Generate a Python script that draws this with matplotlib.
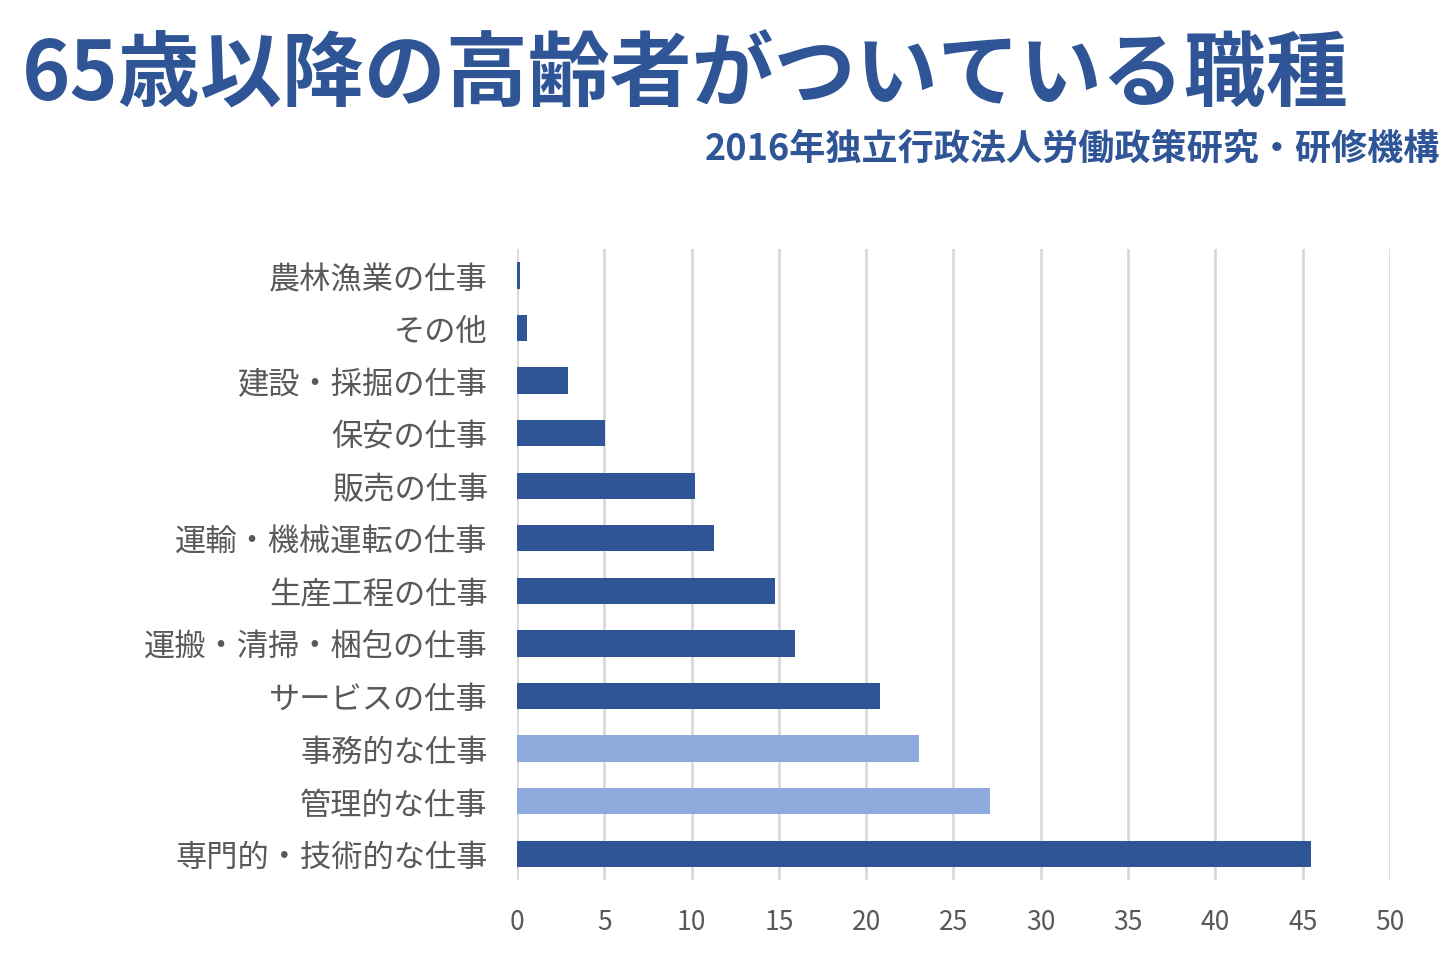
import matplotlib.pyplot as plt
import numpy as np

plt.rcParams['font.family'] = ['Noto Sans CJK JP', 'DejaVu Sans']

categories = ['専門的・技術的な仕事', '管理的な仕事', '事務的な仕事', 'サービスの仕事',
              '運搬・清掃・梱包の仕事', '生産工程の仕事', '運輸・機械運転の仕事',
              '販売の仕事', '保安の仕事', '建設・採掘の仕事', 'その他', '農林漁業の仕事']
values = [45.5, 27.1, 23.0, 20.8, 15.9, 14.8, 11.3, 10.2, 5.05, 2.9, 0.6, 0.15]
highlight = ['事務的な仕事', '管理的な仕事']
xticks = [0, 5, 10, 15, 20, 25, 30, 35, 40, 45, 50]

dark = '#2F5597'
light = '#8FAADC'
colors = [light if c in highlight else dark for c in categories]

fig = plt.figure(figsize=(14.4, 9.62), dpi=100)
ax = fig.add_axes([0.359, 0.0842, 0.6063, 0.6558])

index = np.arange(len(categories))
ax.barh(index, values, height=0.5, color=colors, zorder=3)

ax.set_xlim(0, 50)
ax.set_ylim(-0.5, len(categories) - 0.5)
ax.set_xticks(xticks)
ax.set_yticks(index)
ax.set_yticklabels(categories)
ax.tick_params(axis='y', length=0, pad=21, labelsize=22.5, labelcolor='#595959')
ax.tick_params(axis='x', length=0, pad=20, labelsize=19, labelcolor='#595959')
ax.grid(axis='x', color='#d9d9d9', lw=2, zorder=0)
for sp in ax.spines.values():
    sp.set_visible(False)

fig.text(0.015, 0.92, '65歳以降の高齢者がついている職種', fontsize=59,
         fontweight='bold', color=dark, va='center', ha='left')
fig.text(1.0, 0.845, '2016年独立行政法人労働政策研究・研修機構', fontsize=26,
         fontweight='bold', color=dark, va='center', ha='right')

plt.savefig('out.png', dpi=100)
